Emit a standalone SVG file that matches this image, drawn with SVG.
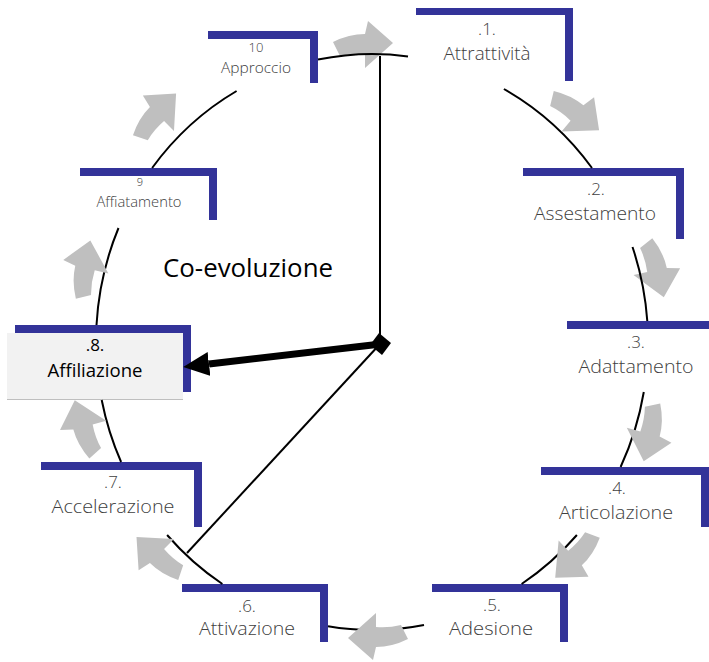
<svg xmlns="http://www.w3.org/2000/svg" xmlns:xlink="http://www.w3.org/1999/xlink" width="709" height="662" viewBox="0 0 709 662">
<style>
.bar{fill:#333399}
.lbl{font-family:"Open Sans","Liberation Sans",sans-serif;font-weight:300;fill:#404040;text-anchor:middle}
.num{font-size:17px}
.name{font-size:19px}
.small{font-size:15px}
.dark{fill:#000000;font-weight:400}
.ring{fill:none;stroke:#000000;stroke-width:2}
.thin{stroke:#000000;stroke-width:2;fill:none}
</style>
<defs>
<path id="ga" d="M -32,-2 Q -16,-10 0,-10 L 3,-23 L 28,-1 L 0,24 L 0,10 Q -13,9 -25,12 Z" fill="#bfbfbf"/>
<marker id="head" viewBox="0 0 26 24" refX="0" refY="12" markerWidth="26" markerHeight="24" markerUnits="userSpaceOnUse" orient="auto">
<path d="M0,0 L26,12 L0,24 Z" fill="#000000"/>
</marker>
</defs>

<g id="node-1">
<rect class="bar" x="416" y="8" width="157" height="7"/>
<rect class="bar" x="565" y="8" width="8" height="73"/>
<text class="lbl num" x="487" y="35">.1.</text>
<text class="lbl name" x="487" y="60" textLength="87" lengthAdjust="spacingAndGlyphs">Attrattività</text>
</g>
<g id="node-2">
<rect class="bar" x="523" y="168" width="161" height="8"/>
<rect class="bar" x="676" y="168" width="8" height="71"/>
<text class="lbl num" x="596" y="195">.2.</text>
<text class="lbl name" x="595" y="220" textLength="122" lengthAdjust="spacingAndGlyphs">Assestamento</text>
</g>
<g id="node-3">
<rect class="bar" x="567" y="321" width="142" height="8"/>
<text class="lbl num" x="636" y="348">.3.</text>
<text class="lbl name" x="636" y="373" textLength="115" lengthAdjust="spacingAndGlyphs">Adattamento</text>
</g>
<g id="node-4">
<rect class="bar" x="541" y="467" width="168" height="8"/>
<rect class="bar" x="701" y="467" width="8" height="60"/>
<text class="lbl num" x="617" y="494">.4.</text>
<text class="lbl name" x="616" y="519" textLength="114" lengthAdjust="spacingAndGlyphs">Articolazione</text>
</g>
<g id="node-5">
<rect class="bar" x="432" y="584" width="136" height="8"/>
<rect class="bar" x="560" y="584" width="8" height="58"/>
<text class="lbl num" x="492" y="611">.5.</text>
<text class="lbl name" x="491" y="635" textLength="84" lengthAdjust="spacingAndGlyphs">Adesione</text>
</g>
<g id="node-6">
<rect class="bar" x="182" y="584" width="146" height="8"/>
<rect class="bar" x="320" y="584" width="8" height="58"/>
<text class="lbl num" x="247" y="612">.6.</text>
<text class="lbl name" x="247" y="635" textLength="96" lengthAdjust="spacingAndGlyphs">Attivazione</text>
</g>
<g id="node-7">
<rect class="bar" x="41" y="462" width="161" height="8"/>
<rect class="bar" x="194" y="462" width="8" height="65"/>
<text class="lbl num" x="113" y="488">.7.</text>
<text class="lbl name" x="113" y="513" textLength="123" lengthAdjust="spacingAndGlyphs">Accelerazione</text>
</g>
<g id="node-8">
<rect class="bar" x="15" y="325" width="176" height="8"/>
<rect class="bar" x="183" y="325" width="8" height="67"/>
<rect x="7" y="333" width="176" height="67" fill="#f2f2f2"/>
<line x1="7" y1="399.5" x2="183" y2="399.5" stroke="#bfbfbf" stroke-width="1"/>
<text class="lbl num dark" x="95" y="351">.8.</text>
<text class="lbl name dark" x="95" y="377" textLength="95" lengthAdjust="spacingAndGlyphs">Affiliazione</text>
</g>
<g id="node-9">
<rect class="bar" x="80" y="168" width="137" height="8"/>
<rect class="bar" x="209" y="168" width="8" height="52"/>
<text class="lbl" x="140" y="186" font-size="11">9</text>
<text class="lbl small" x="139" y="207" textLength="85" lengthAdjust="spacingAndGlyphs">Affiatamento</text>
</g>
<g id="node-10">
<rect class="bar" x="208" y="31" width="110" height="8"/>
<rect class="bar" x="310" y="31" width="8" height="52"/>
<text class="lbl" x="256" y="52" font-size="13">10</text>
<text class="lbl small" x="256" y="73" textLength="70" lengthAdjust="spacingAndGlyphs">Approccio</text>
</g>
<g id="title">
<text x="248" y="277" font-family="Open Sans, Liberation Sans, sans-serif" font-size="26" fill="#000000" text-anchor="middle" textLength="170" lengthAdjust="spacingAndGlyphs">Co-evoluzione</text>
</g>

<g id="connectors">
<use xlink:href="#ga" href="#ga" transform="translate(365,44)"/>
<use xlink:href="#ga" href="#ga" transform="translate(657,270) rotate(78)"/>
<path class="ring" d="M318,59.6 A276,288 0 0 1 408,56.4"/>
<path class="ring" d="M503.9,89 A276,288 0 0 1 592,168"/>
<path class="ring" d="M632.5,247 A276,288 0 0 1 647.3,321"/>
<path class="ring" d="M643.8,392 A276,288 0 0 1 620.6,467"/>
<path class="ring" d="M576.9,535 A276,288 0 0 1 521.6,584"/>
<path class="ring" d="M424,624.9 A276,288 0 0 1 328,626.3"/>
<path class="ring" d="M222.4,584 A276,288 0 0 1 167.1,535"/>
<path class="ring" d="M121.1,462 A276,288 0 0 1 101.7,400"/>
<path class="ring" d="M96.5,325 A276,288 0 0 1 118.5,228"/>
<path class="ring" d="M152.1,168 A276,288 0 0 1 236.6,91"/>
<use xlink:href="#ga" href="#ga" transform="translate(577,113) rotate(40)"/>
<use xlink:href="#ga" href="#ga" transform="translate(650,434) rotate(105)"/>
<use xlink:href="#ga" href="#ga" transform="translate(575,558) rotate(137)"/>
<use xlink:href="#ga" href="#ga" transform="translate(376,637) rotate(180)"/>
<use xlink:href="#ga" href="#ga" transform="translate(157,556) rotate(-135)"/>
<use xlink:href="#ga" href="#ga" transform="translate(83,427) rotate(-105)"/>
<use xlink:href="#ga" href="#ga" transform="translate(85,268) rotate(-77)"/>
<use xlink:href="#ga" href="#ga" transform="translate(157,114) rotate(-45)"/>
<line class="thin" x1="380" y1="344" x2="380" y2="56"/>
<line class="thin" x1="380" y1="344" x2="187" y2="553"/>
<line x1="381" y1="344" x2="209" y2="364" stroke="#000000" stroke-width="7" marker-end="url(#head)"/>
<polygon points="379,333 391,343 382,355 370,345" fill="#000000"/>
</g>
</svg>
